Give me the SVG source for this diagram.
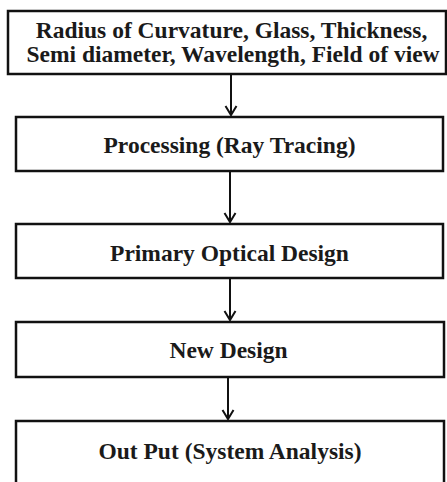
<svg xmlns="http://www.w3.org/2000/svg" width="447" height="482" viewBox="0 0 447 482">
<style>
.box{fill:#fff;stroke:#111;stroke-width:2.5}
.lbl{font-family:"Liberation Serif",serif;font-weight:700;font-size:23.5px;fill:#1a1a1a;text-anchor:middle}
.con{stroke:#111;stroke-width:2;fill:none}
</style>
<rect width="447" height="482" fill="#fff"/>
<g id="connectors">
<path class="con" d="M231 74 V115 M225.5 106 L231 115 L236.5 106"/>
<path class="con" d="M230 171 V222 M224.5 213 L230 222 L235.5 213"/>
<path class="con" d="M230 278 V320 M224.5 311 L230 320 L235.5 311"/>
<path class="con" d="M228 377 V419 M222.5 410 L228 419 L233.5 410"/>
</g>
<g id="n1">
<rect class="box" x="8" y="11" width="438" height="63"/>
<text class="lbl" x="231.5" y="37.5">Radius of Curvature, Glass, Thickness,</text>
<text class="lbl" x="233" y="62">Semi diameter, Wavelength, Field of view</text>
</g>
<g id="n2">
<rect class="box" x="16" y="117" width="427" height="54"/>
<text class="lbl" x="229.5" y="152.5">Processing (Ray Tracing)</text>
</g>
<g id="n3">
<rect class="box" x="16" y="224" width="427" height="54"/>
<text class="lbl" x="229.5" y="261">Primary Optical Design</text>
</g>
<g id="n4">
<rect class="box" x="16" y="322" width="428" height="55"/>
<text class="lbl" x="228.5" y="358.3">New Design</text>
</g>
<g id="n5">
<rect class="box" x="16" y="421" width="428" height="70"/>
<text class="lbl" x="230" y="459.3">Out Put (System Analysis)</text>
</g>
</svg>
